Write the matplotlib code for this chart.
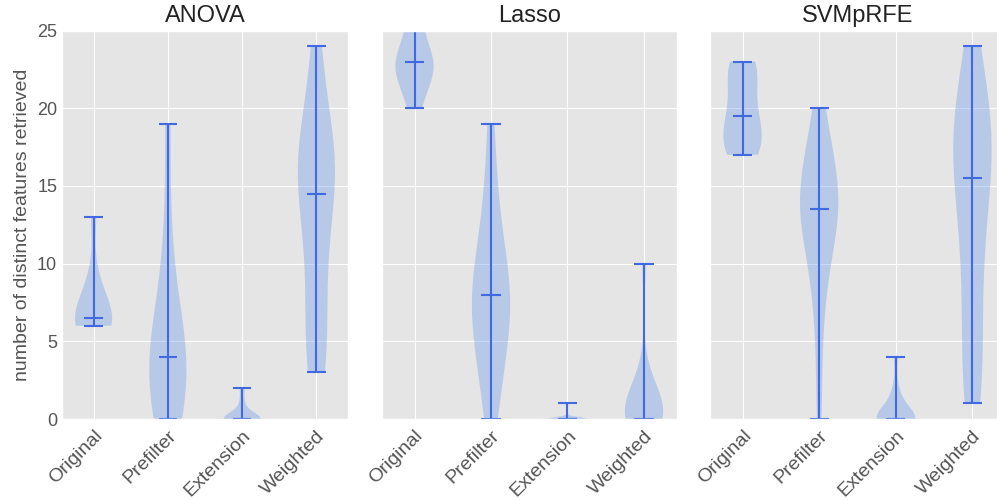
import matplotlib
matplotlib.use("Agg")
import matplotlib.pyplot as plt

plt.style.use("ggplot")
plt.rcParams['font.family'] = ['Liberation Sans', 'DejaVu Sans']

""" number of distinct features retrieved per run """
methods = ["ANOVA", "Lasso", "SVMpRFE"]
variants = ["Original", "Prefilter", "Extension", "Weighted"]

anova_original = [6, 6, 6, 6, 6, 7, 7, 8, 9, 13]
anova_prefilter = [0, 0, 1, 2, 3, 4, 4, 5, 6, 8, 12, 19]
anova_extension = [0, 0, 0, 0, 0, 0, 0, 0, 1, 2]
anova_weighted = [3, 3, 3, 4, 5, 6, 7, 8, 9, 10, 11, 12, 13, 14, 14,
                  15, 15, 16, 16, 16, 17, 17, 17, 18, 18, 19, 20, 22, 23, 24]

lasso_original = [20, 21, 22, 22, 23, 23, 23, 24, 25, 26]
lasso_prefilter = [0, 2, 3, 5, 6, 6, 7, 8, 8, 9, 10, 11, 13, 15, 19]
lasso_extension = [0] * 19 + [1]
lasso_weighted = [0, 0, 0, 0, 0, 0, 0, 0, 1, 1, 1, 2, 2, 3, 10]

svm_original = [17, 17, 17, 18, 18, 18, 19, 19, 20, 20, 21, 22, 22, 23, 23, 23]
svm_prefilter = [0, 3, 6, 8, 9, 10, 11, 12, 12, 13, 13, 13,
                 14, 14, 14, 15, 15, 15, 16, 17, 17, 18, 19, 20]
svm_extension = [0, 0, 0, 0, 0, 0, 0, 0, 0, 1, 1, 2, 4]
svm_weighted = [1, 1, 2, 3, 4, 5, 6, 8, 9, 10, 11, 12, 13, 14, 15,
                16, 16, 16, 17, 17, 18, 18, 19, 19, 20, 20, 21, 22, 23, 24]

data = {
    "ANOVA": [anova_original, anova_prefilter, anova_extension, anova_weighted],
    "Lasso": [lasso_original, lasso_prefilter, lasso_extension, lasso_weighted],
    "SVMpRFE": [svm_original, svm_prefilter, svm_extension, svm_weighted],
}

fig = plt.figure(figsize=(9.97, 5), dpi=100)
# axes boxes in pixels (left, right)
boxes = [(62, 348), (382, 676.5), (710, 1005)]

axs = []
for i, m in enumerate(methods):
    l, r = boxes[i]
    if i == 0:
        ax = fig.add_axes([l / 997, 1 - 419 / 500, (r - l) / 997, 388.5 / 500])
    else:
        ax = fig.add_axes([l / 997, 1 - 419 / 500, (r - l) / 997, 388.5 / 500], sharey=axs[0])
    axs.append(ax)

    parts = ax.violinplot(data[m], showmedians=True, showextrema=True)
    for b in parts['bodies']:
        b.set_facecolor('cornflowerblue')
        b.set_edgecolor('none')
        b.set_alpha(0.35)
    for k in ['cmins', 'cmaxes', 'cbars', 'cmedians']:
        parts[k].set_color('royalblue')
        parts[k].set_linewidth(1.5)

    ax.set_title(m, fontsize=17, color='#222222')
    ax.set_xticks([1, 2, 3, 4])
    ax.set_xticklabels(variants, rotation=45, ha='right', rotation_mode='anchor', fontsize=14)
    ax.tick_params(axis='x', length=0, labelsize=14, pad=6)
    ax.tick_params(axis='y', length=0, labelsize=13)
    ax.set_ylim(0, 25)
    if i > 0:
        plt.setp(ax.get_yticklabels(), visible=False)

axs[0].set_yticks([0, 5, 10, 15, 20, 25])
axs[0].set_ylabel("number of distinct features retrieved", fontsize=14, color='#555555')

plt.savefig("out.png", dpi=100)
